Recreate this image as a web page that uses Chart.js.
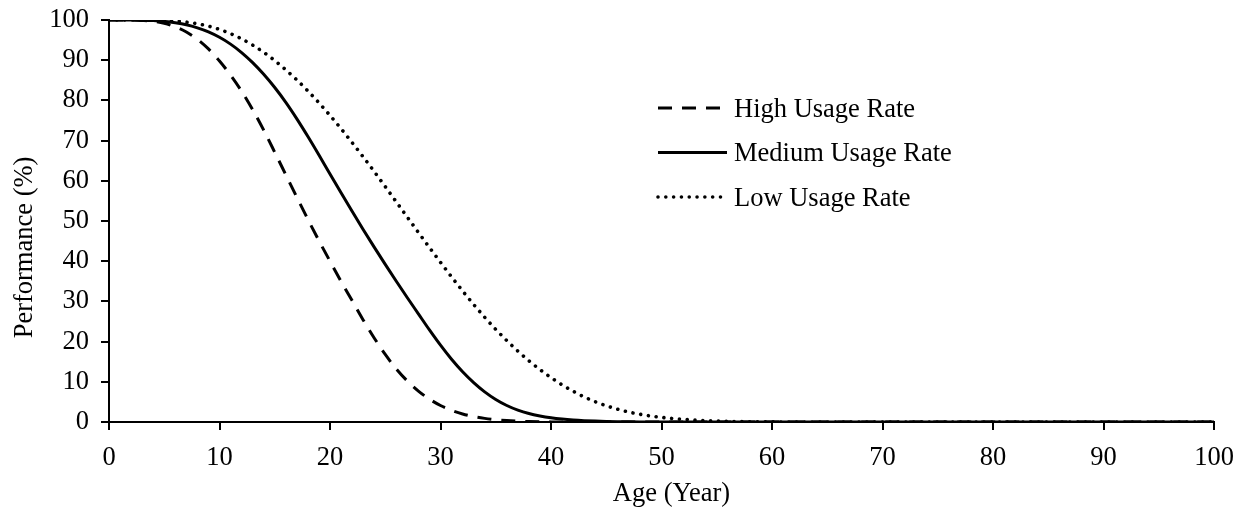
<!DOCTYPE html>
<html>
<head>
<meta charset="utf-8">
<script src="https://cdn.jsdelivr.net/npm/chart.js@4.4.1/dist/chart.umd.min.js"></script>
<style>
html,body{margin:0;padding:0;background:#ffffff;}
#wrap{width:1244px;height:508px;}
</style>
</head>
<body>
<div id="wrap"><canvas id="c" width="1244" height="508"></canvas></div>
<script>
// ---- data ----
const ages = [0,1,2,3,4,5,6,7,8,9,10,11,12,13,14,15,16,17,18,19,20,21,22,23,24,25,26,27,28,29,30,31,32,33,34,35,36,37,38,39,40,41,42,43,44,45,46,47,48,49,50,51,52,53,54,55,56,57,58,59,60,65,70,75,80,85,90,95,100];
const highUsage = [100,100,100,99.9,99.7,99.2,98.3,97.0,95.2,92.8,89.8,86.3,82.3,77.7,72.6,67.1,61.5,55.9,50.4,45.1,40.0,35.0,30.2,25.4,20.9,16.8,13.2,10.2,7.7,5.7,4.1,2.9,2.0,1.35,0.9,0.58,0.36,0.21,0.12,0.06,0.03,0.01,0,0,0,0,0,0,0,0,0,0,0,0,0,0,0,0,0,0,0,0,0,0,0,0,0,0,0];
const mediumUsage = [100,100,100,99.95,99.85,99.65,99.3,98.8,98.05,97.05,95.7,94.0,91.9,89.4,86.5,83.2,79.5,75.4,71.0,66.4,61.7,57.0,52.4,47.9,43.5,39.2,35.0,30.9,26.9,22.9,19.1,15.6,12.5,9.8,7.5,5.6,4.1,2.95,2.1,1.5,1.05,0.73,0.5,0.34,0.23,0.15,0.09,0.05,0.02,0,0,0,0,0,0,0,0,0,0,0,0,0,0,0,0,0,0,0,0];
const lowUsage = [100,100,100,100,99.97,99.9,99.75,99.48,99.06,98.46,97.66,96.61,95.31,93.76,91.96,89.91,87.6,85.1,82.35,79.4,76.25,72.95,69.5,65.95,62.3,58.55,54.75,50.95,47.15,43.4,39.7,36.1,32.6,29.25,26.05,23.05,20.25,17.65,15.25,13.05,11.05,9.25,7.65,6.25,5.05,4.05,3.2,2.5,1.95,1.5,1.15,0.87,0.65,0.48,0.35,0.25,0.17,0.11,0.07,0.04,0.02,0,0,0,0,0,0,0,0];
const seriesLabels = ["High Usage Rate","Medium Usage Rate","Low Usage Rate"];
const xTitle = "Age (Year)";
const yTitle = "Performance (%)";
const xMin = 0, xMax = 100, xStep = 10;
const yMin = 0, yMax = 100, yStep = 10;

const FONT = '"Liberation Serif", "Times New Roman", serif';
const FS = 26.5;

function pts(arr){ return ages.map((a,i)=>({x:a, y:arr[i]})); }

const legendPlugin = {
  id: 'innerLegend',
  afterDraw(chart){
    const ctx = chart.ctx;
    const rows = [
      {lineY:108, textY:116.5},
      {lineY:152.5, textY:161},
      {lineY:197, textY:206}
    ];
    chart.data.datasets.forEach((ds,i)=>{
      const r = rows[i];
      ctx.save();
      ctx.strokeStyle = ds.borderColor;
      ctx.lineWidth = ds.borderWidth;
      ctx.lineCap = ds.borderCapStyle || 'butt';
      ctx.setLineDash(ds.borderDash || []);
      ctx.beginPath();
      ctx.moveTo(658, r.lineY);
      ctx.lineTo(727, r.lineY);
      ctx.stroke();
      ctx.setLineDash([]);
      ctx.fillStyle = '#000';
      ctx.font = FS + 'px ' + FONT;
      ctx.textAlign = 'left';
      ctx.textBaseline = 'alphabetic';
      ctx.fillText(ds.label, 734, r.textY);
      ctx.restore();
    });
  }
};

const titlesPlugin = {
  id: 'axisTitles',
  afterDraw(chart){
    const ctx = chart.ctx;
    ctx.save();
    ctx.fillStyle = '#000';
    ctx.font = FS + 'px ' + FONT;
    ctx.textAlign = 'center';
    ctx.textBaseline = 'alphabetic';
    ctx.fillText(xTitle, 671.5, 501);
    ctx.translate(31.5, 247.5);
    ctx.rotate(-Math.PI/2);
    ctx.fillText(yTitle, 0, 0);
    ctx.restore();
  }
};

new Chart(document.getElementById('c'), {
  type: 'line',
  data: {
    datasets: [
      {label: seriesLabels[0], data: pts(highUsage), borderColor:'#000', borderWidth:3, borderDash:[14,10], borderCapStyle:'butt', pointRadius:0, fill:false, cubicInterpolationMode:'monotone'},
      {label: seriesLabels[1], data: pts(mediumUsage), borderColor:'#000', borderWidth:3, borderDash:[], pointRadius:0, fill:false, cubicInterpolationMode:'monotone'},
      {label: seriesLabels[2], data: pts(lowUsage), borderColor:'#000', borderWidth:3.6, borderDash:[0.01,7.8], borderCapStyle:'round', pointRadius:0, fill:false, cubicInterpolationMode:'monotone'}
    ]
  },
  options: {
    responsive: false,
    animation: false,
    devicePixelRatio: 1,
    layout: {padding: {top: 20, right: 30, left: 0, bottom: 0}},
    plugins: {legend: {display:false}, tooltip: {enabled:false}},
    scales: {
      x: {
        type: 'linear', min: xMin, max: xMax,
        ticks: {stepSize: xStep, color:'#000', font:{family: FONT, size: FS}, padding: 12, maxRotation:0},
        grid: {drawOnChartArea:false, drawTicks:true, tickLength:8, color:'#000', lineWidth:2},
        border: {display:true, color:'#000', width:2},
        title: {display:false},
        afterFit(s){ s.height = 86; s.paddingLeft = 0; s.paddingRight = 0; }
      },
      y: {
        type: 'linear', min: yMin, max: yMax,
        ticks: {stepSize: yStep, color:'#000', font:{family: FONT, size: FS}, padding: 12},
        grid: {drawOnChartArea:false, drawTicks:true, tickLength:8, color:'#000', lineWidth:2},
        border: {display:true, color:'#000', width:2},
        title: {display:false},
        afterFit(s){ s.width = 109; s.paddingTop = 0; s.paddingBottom = 0; }
      }
    }
  },
  plugins: [legendPlugin, titlesPlugin]
});
</script>
</body>
</html>
